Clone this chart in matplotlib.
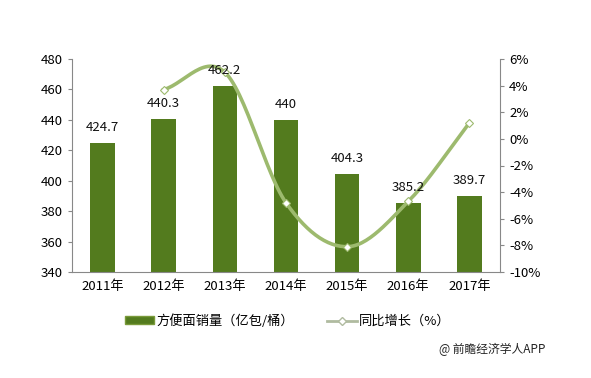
import numpy as np
import matplotlib
matplotlib.use("Agg")
import matplotlib.pyplot as plt
from matplotlib.lines import Line2D
from matplotlib.patches import Patch

plt.rcParams['font.family'] = ['Noto Sans CJK SC', 'DejaVu Sans']

years = ['2011年', '2012年', '2013年', '2014年', '2015年', '2016年', '2017年']
sales = [424.7, 440.3, 462.2, 440.0, 404.3, 385.2, 389.7]
sales_labels = ['424.7', '440.3', '462.2', '440', '404.3', '385.2', '389.7']
growth = [None, 3.7, 5.0, -4.8, -8.1, -4.7, 1.2]

bar_color = '#537b1e'
line_color = '#9dba6e'

fig = plt.figure(figsize=(5.91, 3.78), dpi=100)
ax = fig.add_axes([72/591, 1-272/378, (500-72)/591, (272-59)/378])
x = np.arange(len(years))
ax.bar(x, sales, width=0.4, color=bar_color, zorder=2)
ax.set_ylim(340, 480)
ax.set_yticks(range(340, 481, 20))
ax.set_xlim(-0.5, len(years)-0.5)
ax.set_xticks(x)
ax.set_xticklabels(years, fontsize=9.5)
for s in ['top', 'right']:
    ax.spines[s].set_visible(False)
for s in ['left', 'bottom']:
    ax.spines[s].set_color('#888888')
ax.tick_params(axis='y', labelsize=9.5, length=3, color='#888888')
ax.tick_params(axis='x', length=0, pad=6)

ax2 = ax.twinx()
ax2.set_ylim(-10, 6)
ax2.set_yticks(range(-10, 7, 2))
ax2.set_yticklabels([f'{v}%' for v in range(-10, 7, 2)], fontsize=9.5)
for s in ['top', 'left', 'bottom']:
    ax2.spines[s].set_visible(False)
ax2.spines['right'].set_color('#888888')
ax2.tick_params(axis='y', length=3, color='#888888')

# smooth curve through growth points (Catmull-Rom rendering)
gx = np.array([i for i, g in enumerate(growth) if g is not None], dtype=float)
gy = np.array([g for g in growth if g is not None], dtype=float)
P = np.column_stack([gx, gy])
Pext = np.vstack([2*P[0]-P[1], P, 2*P[-1]-P[-2]])
curve = []
t = np.linspace(0, 1, 30)
for i in range(1, len(Pext)-2):
    p0, p1, p2, p3 = Pext[i-1], Pext[i], Pext[i+1], Pext[i+2]
    seg = 0.5*((2*p1)[None, :] + np.outer(t, (-p0+p2)) +
               np.outer(t**2, (2*p0-5*p1+4*p2-p3)) +
               np.outer(t**3, (-p0+3*p1-3*p2+p3)))
    curve.append(seg)
curve = np.vstack(curve)
ax2.plot(curve[:, 0], curve[:, 1], color=line_color, lw=2.6, zorder=3)
ax2.plot(gx, gy, linestyle='none', marker='D', markersize=4.5, markerfacecolor='white',
         markeredgecolor=line_color, markeredgewidth=0.8, zorder=4)

# value labels drawn above the line (on the twin axes, in bar data coords)
for xi, v, lab in zip(x, sales, sales_labels):
    ax2.text(xi, v + 6, lab, ha='center', va='bottom', fontsize=9.5, color='#111111',
             transform=ax.transData, zorder=6)

handles = [Patch(facecolor=bar_color, edgecolor='#7a9a3a'),
           Line2D([0], [0], color='#b0bba0', lw=2, marker='D', markersize=4,
                  markerfacecolor='white', markeredgecolor='#b0bba0')]
fig.legend(handles, ['方便面销量（亿包/桶）', '同比增长（%）'], loc='center',
           bbox_to_anchor=(288/591, 1-321/378), ncol=2, frameon=False, fontsize=9.5,
           handlelength=2.2, handleheight=0.5, columnspacing=2.5, handletextpad=0.2)

fig.text(545/591, 1-349/378, '@ 前瞻经济学人APP', ha='right', va='center', fontsize=8.5, color='#222222')

fig.savefig('out.png', dpi=100)
